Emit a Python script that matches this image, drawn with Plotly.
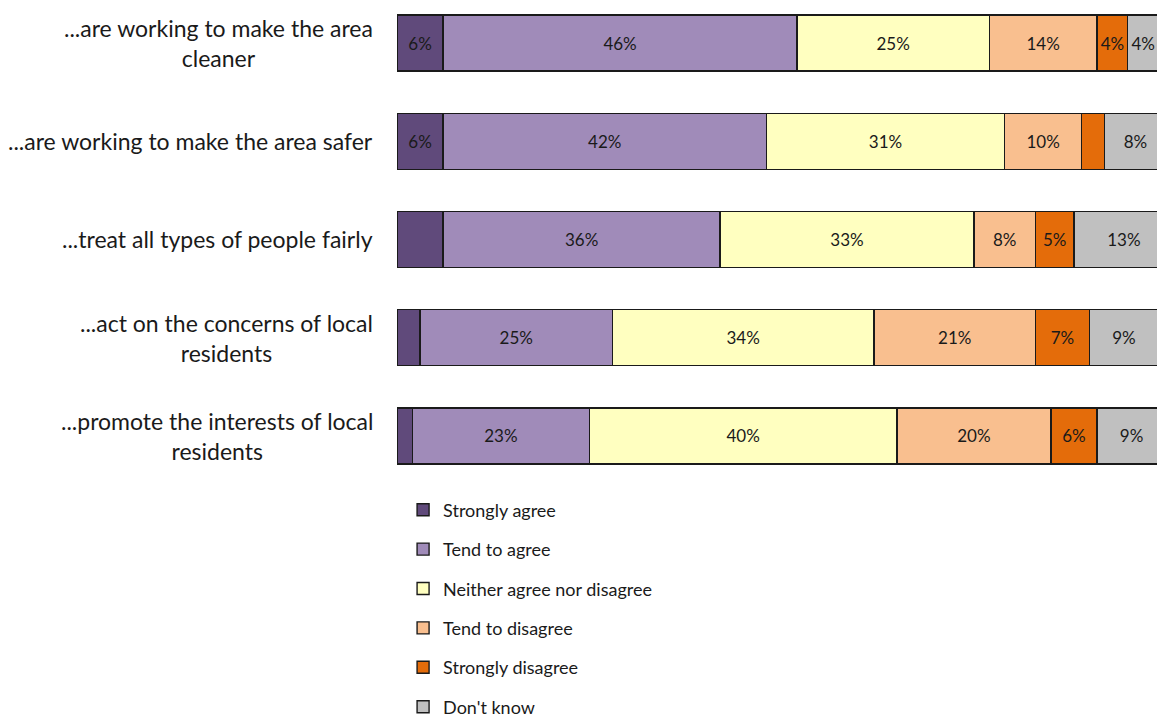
import plotly.graph_objects as go

# Survey statements (top to bottom)
statements = [
    "...are working to make the area<br>cleaner",
    "...are working to make the area safer",
    "...treat all types of people fairly",
    "...act on the concerns of local<br>residents",
    "...promote the interests of local<br>residents",
]

# Response categories, in stacking order
responses = [
    "Strongly agree",
    "Tend to agree",
    "Neither agree nor disagree",
    "Tend to disagree",
    "Strongly disagree",
    "Don't know",
]

# Percentage of respondents per response, one list per category
strongly_agree = [6, 6, 6, 3, 2]
tend_to_agree = [46, 42, 36, 25, 23]
neither = [25, 31, 33, 34, 40]
tend_to_disagree = [14, 10, 8, 21, 20]
strongly_disagree = [4, 3, 5, 7, 6]
dont_know = [4, 8, 13, 9, 9]

series_values = [strongly_agree, tend_to_agree, neither,
                 tend_to_disagree, strongly_disagree, dont_know]

# Segments printed without a data label: (response index, statement index)
unlabelled = {(0, 2), (0, 3), (0, 4), (4, 1)}

colors = ["#604A7B", "#A08BB9", "#FFFFC0", "#F9BF8F", "#E46C0A", "#C0C0C0"]

FONT = "Lato, Carlito, sans-serif"
rows = list(range(len(statements)))

fig = go.Figure()
for i, (name, vals, col) in enumerate(zip(responses, series_values, colors)):
    labels = ["" if (i, j) in unlabelled else f"{v}%" for j, v in enumerate(vals)]
    fig.add_trace(go.Bar(
        y=rows,
        x=vals,
        name=name,
        orientation="h",
        width=0.57,
        marker=dict(color=col, line=dict(color="#1a1a1a", width=1.4)),
        text=labels,
        textposition="inside",
        insidetextanchor="middle",
        textangle=0,
        constraintext="none",
        insidetextfont=dict(family=FONT, size=17, color="#1a1a1a"),
        legendgroup=name,
        hoverinfo="skip",
    ))

for j, label in enumerate(statements):
    fig.add_annotation(
        x=0, xref="paper", y=j, yref="y",
        text=label, showarrow=False,
        xanchor="right", yanchor="middle", align="center",
        xshift=-22,
        font=dict(family=FONT, size=23, color="#1a1a1a"),
    )

fig.update_layout(
    width=1157,
    height=717,
    barmode="stack",
    paper_bgcolor="white",
    plot_bgcolor="white",
    margin=dict(l=397, r=0, t=0, b=237, autoexpand=False),
    font=dict(family=FONT, color="#1a1a1a"),
    xaxis=dict(range=[0, 98.8], visible=False, fixedrange=True),
    yaxis=dict(range=[4.448, -0.4377], visible=False, fixedrange=True),
    showlegend=True,
    legend=dict(
        orientation="v",
        x=0.008, xanchor="left",
        y=-0.024, yanchor="top",
        traceorder="grouped",
        tracegroupgap=13,
        font=dict(family=FONT, size=18, color="#1a1a1a"),
        itemwidth=30,
        borderwidth=0,
        bgcolor="rgba(0,0,0,0)",
    ),
)

fig.write_html("out.html")
